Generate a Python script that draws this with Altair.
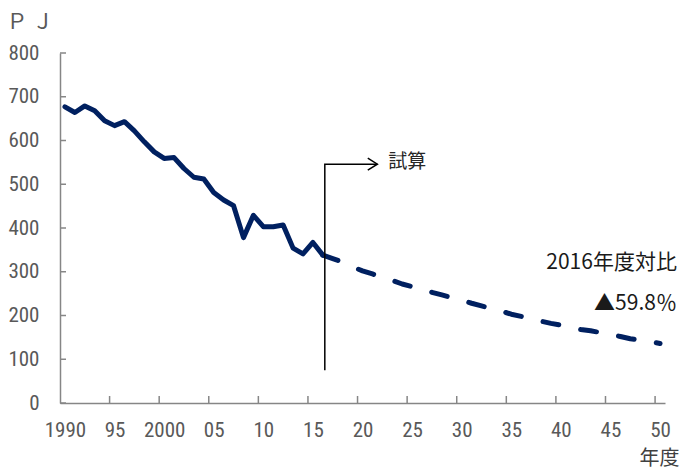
import altair as alt
import pandas as pd

# ---- data ----
hist_years = list(range(1990, 2017))
hist_values = [677, 664, 679, 668, 645, 634, 643, 622, 597, 574, 559, 561, 536, 516,
               512, 481, 464, 451, 378, 429, 403, 403, 407, 354, 341, 367, 338]

proj_years = list(range(2016, 2051))
proj_values = [338, 330, 322, 311, 302, 295, 287, 280, 272, 266, 259, 253, 247, 241,
               235, 228, 222, 216, 210, 203, 198, 193, 187, 182, 178, 173, 168, 165,
               161, 157, 152, 147, 144, 140, 136]

x_label_years = [1990, 1995, 2000, 2005, 2010, 2015, 2020, 2025, 2030, 2035, 2040, 2045, 2050]
y_ticks = [0, 100, 200, 300, 400, 500, 600, 700, 800]

note_texts = ["2016年度対比", "▲59.8％"]
note_years = [2051.7, 2051.7]
note_values = [320, 226]

arrow_years = [2016.2, 2016.2, 2021.5]
arrow_values = [75, 546, 546]
arrow_order = [0, 1, 2]
calc_label = "試算"

# ---- tables ----
hist_df = pd.DataFrame({"year": hist_years, "value": hist_values})
proj_df = pd.DataFrame({"year": proj_years, "value": proj_values})
xtick_df = pd.DataFrame({"year": [y - 0.5 for y in x_label_years[1:]]})
ytick_df = pd.DataFrame({"value": y_ticks})
note_df = pd.DataFrame({"year": note_years, "value": note_values, "text": note_texts})
arrow_df = pd.DataFrame({"year": arrow_years, "value": arrow_values, "o": arrow_order})
head_df = pd.DataFrame({"year": [arrow_years[-1]], "value": [arrow_values[-1]]})
calc_df = pd.DataFrame({"year": [2022.6], "value": [550], "text": [calc_label]})

NAVY = "#002060"
AXIS = "#868686"
LABEL = "#595959"
NUMFONT = "Liberation Sans Narrow, Roboto Condensed, Noto Sans"
JPFONT = "Noto Sans CJK JP"

xscale = alt.Scale(domain=[1989.5, 2050.5], nice=False, zero=False)
yscale = alt.Scale(domain=[0, 800], nice=False)

x_axis = alt.Axis(
    values=x_label_years,
    labelExpr="(datum.value == 1990 || datum.value == 2000) ? toString(datum.value) : substring(toString(datum.value), 2, 4)",
    tickSize=0, grid=False,
    domainColor=AXIS, domainWidth=1.5,
    labelColor=LABEL, labelFont=NUMFONT, labelFontSize=21, labelPadding=16,
    labelFlush=False, labelOverlap=False,
    title="年度", titleFont=JPFONT, titleFontSize=20, titleColor="#404040",
    titleFontWeight="normal", titleAlign="right", titleAnchor="end",
    titleX=619, titleY=55, titleBaseline="middle",
)
y_axis = alt.Axis(
    values=y_ticks, format="d",
    tickSize=0, grid=False,
    domainColor=AXIS, domainWidth=1.5,
    labelColor=LABEL, labelFont=NUMFONT, labelFontSize=21, labelPadding=21,
    title="Ｐ Ｊ", titleFont=JPFONT, titleFontSize=21, titleColor=LABEL,
    titleFontWeight="normal", titleAngle=0, titleAlign="left",
    titleX=-54, titleY=-31, titleBaseline="middle",
)

X = alt.X("year:Q", scale=xscale)
Y = alt.Y("value:Q", scale=yscale)

hist = alt.Chart(hist_df).mark_line(
    color=NAVY, strokeWidth=5, strokeJoin="round", strokeCap="round"
).encode(
    x=alt.X("year:Q", scale=xscale, axis=x_axis),
    y=alt.Y("value:Q", scale=yscale, axis=y_axis),
)

proj = alt.Chart(proj_df).mark_line(
    color=NAVY, strokeWidth=5, strokeDash=[16, 22.4], strokeCap="round", strokeJoin="round"
).encode(x=X, y=Y)

xticks = alt.Chart(xtick_df).mark_rule(color=AXIS, strokeWidth=1.5).encode(
    x=X, y=alt.value(350), y2=alt.value(343),
)
yticks = alt.Chart(ytick_df).mark_rule(color=AXIS, strokeWidth=1.5).encode(
    y=Y, x=alt.value(0), x2=alt.value(6),
)

arrow = alt.Chart(arrow_df).mark_line(
    color="black", strokeWidth=1.5, strokeJoin="miter"
).encode(x=X, y=Y, order="o:Q")
head = alt.Chart(head_df).mark_point(
    shape="M -1.6 -1 L 0 0 L -1.6 1", size=144, filled=False,
    stroke="black", strokeWidth=1.5, opacity=1
).encode(x=X, y=Y)
calc = alt.Chart(calc_df).mark_text(
    font=JPFONT, fontSize=19, color="#262626", align="left", baseline="middle"
).encode(x=X, y=Y, text="text:N")
notes = alt.Chart(note_df).mark_text(
    font=JPFONT, fontSize=21, color="#1a1a1a", align="right", baseline="middle"
).encode(x=X, y=Y, text="text:N")

chart = alt.layer(hist, proj, xticks, yticks, arrow, head, calc, notes).properties(
    width=605, height=350,
    autosize=alt.AutoSizeParams(type="none"),
    padding={"left": 60, "top": 53, "right": 17, "bottom": 67},
    background="white",
).configure_view(stroke=None)

chart.save("out.html", embed_options={"renderer": "svg", "actions": False})
